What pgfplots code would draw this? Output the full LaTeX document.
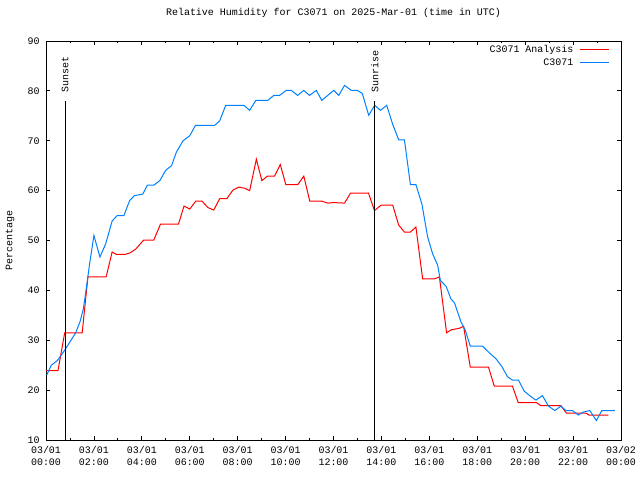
\documentclass[border=0pt]{standalone}
\usepackage{pgfplots}
\pgfplotsset{compat=1.18}
\usepackage{fontspec}
\setmainfont{Liberation Mono}
\definecolor{gpred}{RGB}{255,0,0}
\definecolor{gpblue}{RGB}{0,128,255}
\begin{document}
\fontsize{10}{12}\selectfont
\begin{tikzpicture}
\useasboundingbox (-46bp,-40bp) rectangle (594bp,440bp);
\begin{axis}[
  scale only axis, width=575bp, height=399bp,
  xmin=0, xmax=24, ymin=10, ymax=90,
  xtick={0,2,...,24},
  xticklabels={03/01\\00:00,03/01\\02:00,03/01\\04:00,03/01\\06:00,03/01\\08:00,03/01\\10:00,03/01\\12:00,03/01\\14:00,03/01\\16:00,03/01\\18:00,03/01\\20:00,03/01\\22:00,03/02\\00:00},
  minor x tick num=1,
  ytick={10,20,...,90},
  tick align=inside,
  major tick length=4bp, minor tick length=2bp,
  axis line style={line width=1bp},
  every tick/.style={black, line width=0.8bp},
  /pgf/number format/assume math mode=true,
  xticklabel style={align=center, font=\fontsize{10}{12}\selectfont, yshift=-3bp},
  yticklabel style={xshift=-3bp},
  title={Relative Humidity for C3071 on 2025-Mar-01 (time in UTC)},
  title style={at={(axis description cs:0.5,1)}, anchor=center, yshift=22bp, inner sep=0pt},
  ylabel={Percentage},
  ylabel style={at={(axis description cs:-0.0626,0.5)}, anchor=center, inner sep=0pt},
  legend style={at={(axis description cs:1,1)}, anchor=north east, xshift=-11bp, yshift=-1.8bp,
    draw=none, fill=none, inner sep=0pt, row sep=0pt, column sep=6bp,
    nodes={inner sep=0.5bp, text height=9bp, text depth=3bp}},
  legend cell align=right,
  legend plot pos=right,
  legend image code/.code={\draw[#1] (0bp,0bp) -- (29bp,0bp);},
  clip=true,
]
\addplot[gpred, line width=1bp, sharp plot] coordinates {
(0,23.9) (0.5,23.9) (0.78,31.5) (1.51,31.5) (1.75,42.7) (2.51,42.7) (2.76,47.7) (2.94,47.2) (3.29,47.2)
(3.5,47.5) (3.75,48.3) (4.08,50.1) (4.5,50.1) (4.78,53.3) (5.53,53.3) (5.76,56.9) (6.0,56.3) (6.25,57.9)
(6.51,57.9) (6.76,56.6) (7.0,56.1) (7.25,58.4) (7.55,58.4) (7.8,60.1) (8.04,60.7) (8.28,60.5) (8.5,60)
(8.78,66.3) (9.01,62) (9.24,62.9) (9.54,62.9) (9.78,65.2) (10.01,61.2) (10.51,61.2) (10.76,62.9)
(11.01,57.9) (11.5,57.9) (11.76,57.5) (12.0,57.6) (12.46,57.5) (12.71,59.5) (13.46,59.5) (13.71,56)
(13.99,57.1) (14.47,57.1) (14.72,53.1) (14.96,51.7) (15.21,51.7) (15.44,52.7) (15.72,42.3) (16.2,42.3)
(16.42,42.7) (16.72,31.5) (16.92,32.1) (17.25,32.4) (17.43,32.8) (17.71,24.6) (18.47,24.6) (18.71,20.8)
(19.47,20.8) (19.71,17.5) (20.47,17.5) (20.65,16.9) (21.49,16.9) (21.72,15.4) (22.53,15.4) (22.67,15.0)
(23.47,15.0)
};
\addlegendentry{C3071 Analysis}
\addplot[gpblue, line width=1bp, sharp plot] coordinates {
(0.03,23) (0.22,25) (0.47,25.9) (0.78,28) (1.24,31.5) (1.42,33.7) (1.56,36.3) (1.69,40.7) (1.82,45.3)
(2.0,51) (2.25,46.7) (2.49,49.3) (2.76,53.9) (2.97,55) (3.25,55) (3.49,58) (3.69,59) (4.04,59.3)
(4.23,61.1) (4.5,61.1) (4.75,62) (5.0,64.1) (5.24,65) (5.44,67.7) (5.72,70) (6.0,71) (6.24,73.1)
(7.04,73.1) (7.25,74) (7.5,77.1) (8.26,77.1) (8.5,76.1) (8.76,78.1) (9.26,78.1) (9.51,79.1) (9.75,79.1)
(10.03,80.1) (10.24,80.1) (10.5,79.1) (10.76,80.1) (11.0,79.1) (11.28,80.1) (11.51,78.1) (11.76,79.1)
(12.01,80.1) (12.22,79.1) (12.46,81.1) (12.74,80.1) (12.99,80.1) (13.2,79.5) (13.47,75.1) (13.72,77.1)
(13.96,76.1) (14.22,77.1) (14.47,73.3) (14.72,70.2) (14.96,70.2) (15.21,61.2) (15.44,61.2) (15.69,57.3)
(15.93,50.7) (16.14,47.3) (16.35,45) (16.46,42) (16.7,40.8) (16.9,38.3) (17.05,37.5) (17.32,33.7)
(17.5,32) (17.71,28.8) (18.22,28.8) (18.5,27.5) (18.78,26.3) (19.03,24.7) (19.26,22.7) (19.47,22)
(19.72,22) (19.96,19.8) (20.24,18.7) (20.45,18) (20.72,18.9) (20.97,16.8) (21.24,15.9) (21.49,16.8)
(21.7,15.9) (21.97,15.9) (22.22,15) (22.42,15.6) (22.7,15.9) (22.97,13.9) (23.2,15.9) (23.74,15.9)
};
\addlegendentry{C3071}
\addplot[black, line width=1bp, forget plot] coordinates {(0.80,10) (0.80,78)};
\addplot[black, line width=1bp, forget plot] coordinates {(13.72,10) (13.72,78)};
\node[rotate=90, anchor=west, inner sep=0pt] at (axis cs:0.80,79.7) {Sunset};
\node[rotate=90, anchor=west, inner sep=0pt] at (axis cs:13.72,79.7) {Sunrise};
\end{axis}
\end{tikzpicture}
\end{document}
